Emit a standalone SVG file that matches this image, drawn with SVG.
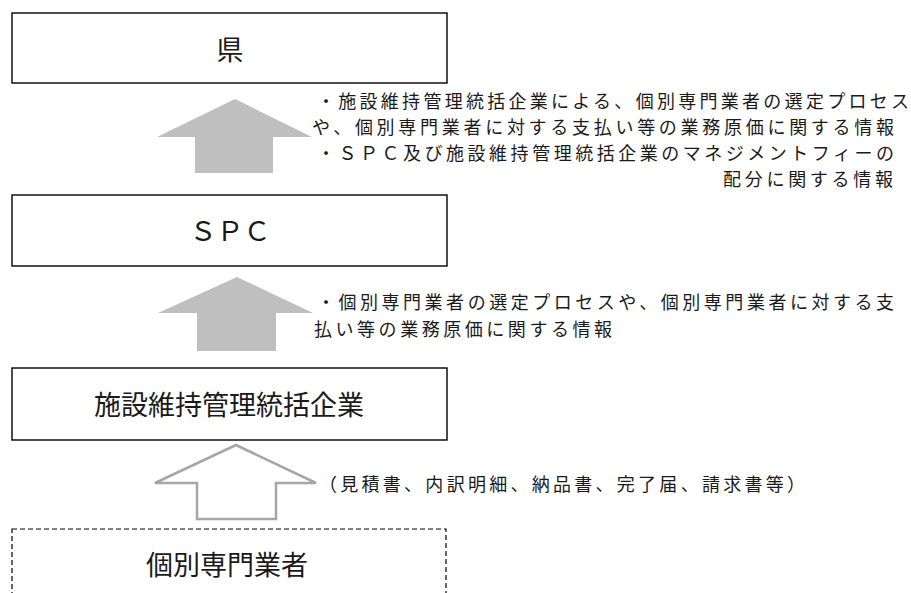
<svg xmlns="http://www.w3.org/2000/svg" width="911" height="593" viewBox="0 0 911 593">
<style>
.box{fill:#fff;stroke:#000;stroke-width:1.4}
.dash{fill:#fff;stroke:#000;stroke-width:1.2;stroke-dasharray:5 3}
.t{font-family:"Noto Sans CJK JP","Noto Sans CJK SC",sans-serif;fill:#1a1a1a}
.nl{font-size:27px;text-anchor:middle}
.lb{font-size:18px}
.af{fill:#bfbfbf;stroke:none}
.ao{fill:#fff;stroke:#a6a6a6;stroke-width:2.5;stroke-linejoin:miter}
</style>
<rect width="911" height="593" fill="#fff"/>
<g id="node-ken">
<rect class="box" x="12" y="13" width="435" height="70"/>
<text class="t nl" x="230" y="60">県</text>
</g>
<g id="node-spc">
<rect class="box" x="12" y="195" width="435" height="71"/>
<text class="t nl" x="230" y="241">ＳＰＣ</text>
</g>
<g id="node-tokatsu">
<rect class="box" x="12" y="368" width="435" height="72"/>
<text class="t nl" x="229" y="415">施設維持管理統括企業</text>
</g>
<g id="node-senmon">
<rect class="dash" x="12" y="529" width="434" height="80"/>
<text class="t nl" x="227" y="575">個別専門業者</text>
</g>
<g id="connectors">
<polygon class="af" points="235,99 312,137 273,137 273,173 195,173 195,137 157,137"/>
<polygon class="af" points="237,277 313,313 276,313 276,351 197,351 197,313 158,313"/>
<polygon class="ao" points="236,445 316,483 276,483 276,519 197,519 197,483 155,483"/>
<g class="t lb">
<text x="317" y="108" textLength="592" lengthAdjust="spacing">・施設維持管理統括企業による、個別専門業者の選定プロセス</text>
<text x="312" y="134" textLength="582" lengthAdjust="spacing">や、個別専門業者に対する支払い等の業務原価に関する情報</text>
<text x="317" y="160" textLength="577" lengthAdjust="spacing">・ＳＰＣ及び施設維持管理統括企業のマネジメントフィーの</text>
<text x="723" y="186" textLength="170" lengthAdjust="spacing">配分に関する情報</text>
<text x="317" y="309" textLength="577" lengthAdjust="spacing">・個別専門業者の選定プロセスや、個別専門業者に対する支</text>
<text x="314" y="336" textLength="298" lengthAdjust="spacing">払い等の業務原価に関する情報</text>
<text x="319" y="491" textLength="486" lengthAdjust="spacing">（見積書、内訳明細、納品書、完了届、請求書等）</text>
</g>
</g>
</svg>
